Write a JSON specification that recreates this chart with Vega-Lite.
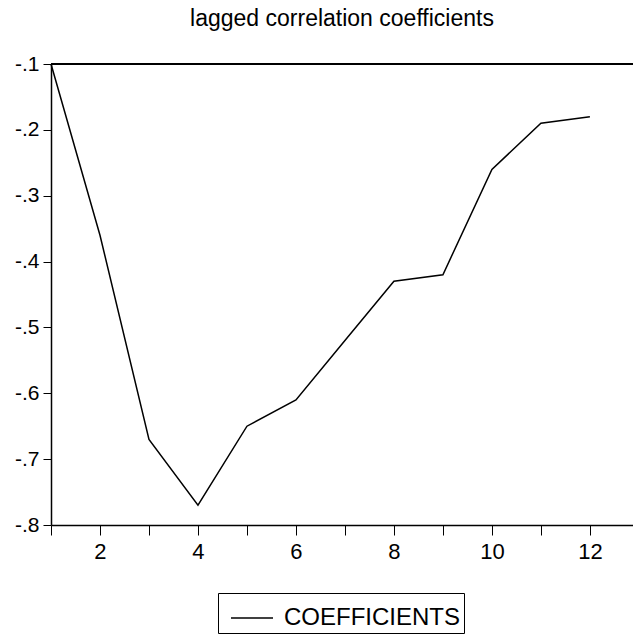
{
  "$schema": "https://vega.github.io/schema/vega-lite/v6.json",
  "autosize": "none",
  "width": 582,
  "height": 461,
  "padding": {"left": 51, "top": 64, "right": 0, "bottom": 109},
  "background": "white",
  "config": {
    "font": "Liberation Sans",
    "view": {"stroke": null},
    "axis": {"grid": false, "domainColor": "black", "tickColor": "black", "labelColor": "black", "labelFont": "Liberation Sans", "labelFontSize": 21, "title": null, "domainWidth": 1.5, "tickWidth": 1}
  },
  "title": {"text": "lagged correlation coefficients", "fontSize": 23, "fontWeight": "normal", "font": "Liberation Sans", "color": "black", "anchor": "middle", "offset": 22},
  "data": {"values": [
    {"lag": 1, "value": -0.10, "series": "COEFFICIENTS"},
    {"lag": 2, "value": -0.36, "series": "COEFFICIENTS"},
    {"lag": 3, "value": -0.67, "series": "COEFFICIENTS"},
    {"lag": 4, "value": -0.77, "series": "COEFFICIENTS"},
    {"lag": 5, "value": -0.65, "series": "COEFFICIENTS"},
    {"lag": 6, "value": -0.61, "series": "COEFFICIENTS"},
    {"lag": 7, "value": -0.52, "series": "COEFFICIENTS"},
    {"lag": 8, "value": -0.43, "series": "COEFFICIENTS"},
    {"lag": 9, "value": -0.42, "series": "COEFFICIENTS"},
    {"lag": 10, "value": -0.26, "series": "COEFFICIENTS"},
    {"lag": 11, "value": -0.19, "series": "COEFFICIENTS"},
    {"lag": 12, "value": -0.18, "series": "COEFFICIENTS"}
  ]},
  "layer": [
    {
      "mark": {"type": "rule", "color": "black", "strokeWidth": 1.5},
      "encoding": {"y": {"datum": -0.1}}
    },
    {
      "mark": {"type": "line", "strokeWidth": 1.5},
      "encoding": {
        "x": {"field": "lag", "type": "quantitative", "scale": {"domain": [1, 12.88], "nice": false, "zero": false},
              "axis": {"values": [1,2,3,4,5,6,7,8,9,10,11,12], "tickSize": 10, "labelPadding": 6, "labelFontSize": 22, "labelExpr": "datum.value % 2 == 0 ? datum.value : ''"}},
        "y": {"field": "value", "type": "quantitative", "scale": {"domain": [-0.8, -0.1], "nice": false, "zero": false},
              "axis": {"values": [-0.8,-0.7,-0.6,-0.5,-0.4,-0.3,-0.2,-0.1], "tickSize": 8, "labelPadding": 4, "labelFontSize": 21, "labelExpr": "'-.' + round(-datum.value*10)"}},
        "color": {"field": "series", "type": "nominal", "scale": {"domain": ["COEFFICIENTS"], "range": ["black"]},
                  "legend": {"title": null, "orient": "none", "legendX": 167, "legendY": 529, "symbolType": "stroke", "symbolSize": 1764, "symbolStrokeWidth": 1.5, "symbolOffset": 9, "labelFontSize": 24, "labelLimit": 400, "labelFont": "Liberation Sans", "labelColor": "black", "strokeColor": "black", "padding": 3, "labelOffset": 10}}
      }
    }
  ]
}
